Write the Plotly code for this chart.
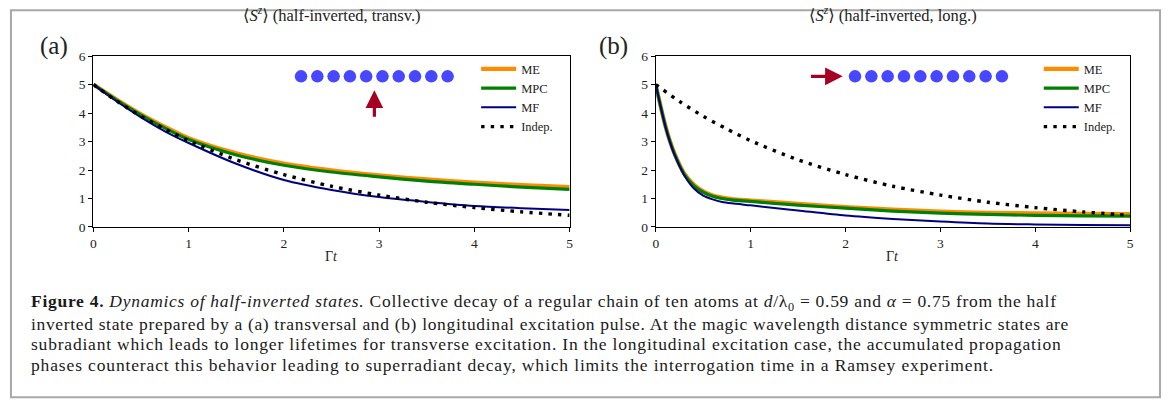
import plotly.graph_objects as go

# ---------------- data ----------------
# Panel (a): transversal excitation
t_a = [0, 0.25, 0.5, 0.75, 1.0, 1.5, 2.0, 2.5, 3.0, 3.5, 4.0, 4.5, 5.0]
me_a = [5.0, 4.46, 3.96, 3.52, 3.12, 2.59, 2.23, 1.99, 1.81, 1.67, 1.56, 1.47, 1.40]
mpc_a = [5.0, 4.44, 3.93, 3.47, 3.07, 2.53, 2.17, 1.93, 1.76, 1.61, 1.50, 1.40, 1.32]
mf_a = [5.0, 4.40, 3.85, 3.36, 2.95, 2.22, 1.65, 1.30, 1.05, 0.88, 0.74, 0.66, 0.60]

# Independent atoms (same in both panels)
t_ind = [0, 0.25, 0.5, 0.75, 1.0, 1.5, 2.0, 2.5, 3.0, 3.5, 4.0, 4.5, 5.0]
indep = [5.0, 4.41, 3.89, 3.44, 3.03, 2.36, 1.84, 1.43, 1.12, 0.87, 0.68, 0.53, 0.41]

# Panel (b): longitudinal excitation
t_b = [0, 0.05, 0.1, 0.15, 0.2, 0.3, 0.4, 0.5, 0.6, 0.7, 0.8, 1.0, 1.25, 1.5,
       2.0, 2.5, 3.0, 3.5, 4.0, 4.5, 5.0]
me_b = [5.0, 4.26, 3.57, 3.01, 2.56, 1.88, 1.49, 1.25, 1.11, 1.03, 0.98, 0.93,
        0.87, 0.81, 0.70, 0.61, 0.54, 0.50, 0.48, 0.46, 0.45]
mpc_b = [5.0, 4.25, 3.56, 3.00, 2.54, 1.85, 1.45, 1.22, 1.08, 1.00, 0.95, 0.90,
         0.83, 0.77, 0.66, 0.56, 0.49, 0.44, 0.41, 0.39, 0.38]
mf_b = [5.0, 4.25, 3.55, 2.98, 2.52, 1.82, 1.36, 1.10, 0.97, 0.88, 0.83, 0.76,
        0.67, 0.58, 0.40, 0.28, 0.19, 0.12, 0.09, 0.07, 0.06]

x_ticks = [0, 1, 2, 3, 4, 5]
y_ticks = [0, 1, 2, 3, 4, 5, 6]
atoms = list(range(10))

titles = ["⟨<i>S</i><sup><i>z</i></sup>⟩ (half-inverted, transv.)",
          "⟨<i>S</i><sup><i>z</i></sup>⟩ (half-inverted, long.)"]
panel_labels = ["(a)", "(b)"]
series_names = ["ME", "MPC", "MF", "Indep."]

caption_lines = [
    "<b>Figure 4.</b> <i>Dynamics of half-inverted states.</i> Collective decay of a regular chain of ten atoms at "
    "<i>d</i>/λ<sub>0</sub> = 0.59 and <i>α</i> = 0.75 from the half",
    "inverted state prepared by a (a) transversal and (b) longitudinal excitation pulse. At the magic wavelength distance symmetric states are",
    "subradiant which leads to longer lifetimes for transverse excitation. In the longitudinal excitation case, the accumulated propagation",
    "phases counteract this behavior leading to superradiant decay, which limits the interrogation time in a Ramsey experiment.",
]

# ---------------- figure ----------------
W, H = 1168, 412
fig = go.Figure()

colors = {"ME": "#ff8c00", "MPC": "#008000", "MF": "#000080", "Indep.": "#000000"}
widths = {"ME": 4.2, "MPC": 3.2, "MF": 2.0, "Indep.": 3.4}

panels = [
    ("x", "y", "legend", t_a, [me_a, mpc_a, mf_a]),
    ("x2", "y2", "legend2", t_b, [me_b, mpc_b, mf_b]),
]
for xa, ya, leg, tt, curves in panels:
    for name, vals in zip(series_names[:3], curves):
        fig.add_trace(go.Scatter(
            x=tt, y=vals, mode="lines", name=name, legend=leg,
            xaxis=xa, yaxis=ya,
            line=dict(color=colors[name], width=widths[name], shape="spline", smoothing=0.8),
        ))
    fig.add_trace(go.Scatter(
        x=t_ind, y=indep, mode="lines", name="Indep.", legend=leg,
        xaxis=xa, yaxis=ya,
        line=dict(color="black", width=widths["Indep."], dash="3.4px,6.2px",
                  shape="spline", smoothing=0.8),
    ))

# atom chains (schematic)
chain_a_x = [2.18 + 0.171 * i for i in atoms]
chain_b_x = [2.10 + 0.172 * i for i in atoms]
for xa, ya, xs in [("x", "y", chain_a_x), ("x2", "y2", chain_b_x)]:
    fig.add_trace(go.Scatter(
        x=xs, y=[5.29] * len(xs), mode="markers", showlegend=False,
        xaxis=xa, yaxis=ya, hoverinfo="skip",
        marker=dict(size=12.5, color="#4747ff", line=dict(width=0)),
    ))

serif = "Liberation Serif, DejaVu Serif, serif"
tick_font = dict(family=serif, size=13.5, color="#222")
ax_common = dict(
    range=[0, 5], tickvals=x_ticks, ticks="outside", ticklen=4, tickwidth=1,
    tickcolor="black", showline=True, linecolor="black", linewidth=1.3,
    mirror=True, showgrid=False, zeroline=False, tickfont=tick_font,
)
ay_common = dict(
    range=[0, 6], tickvals=y_ticks, ticks="outside", ticklen=4, tickwidth=1,
    tickcolor="black", showline=True, linecolor="black", linewidth=1.3,
    mirror=True, showgrid=False, zeroline=False, tickfont=tick_font,
)

legend_font = dict(family=serif, size=12.5, color="#222")
y_dom = [1 - 228.3 / H, 1 - 51 / H]
fig.update_layout(
    width=W, height=H,
    margin=dict(l=0, r=0, t=0, b=0),
    paper_bgcolor="white", plot_bgcolor="white",
    xaxis=dict(domain=[91 / W, 570 / W], anchor="y", **ax_common),
    yaxis=dict(domain=y_dom, anchor="x", **ay_common),
    xaxis2=dict(domain=[656.7 / W, 1134 / W], anchor="y2", **ax_common),
    yaxis2=dict(domain=y_dom, anchor="x2", **ay_common),
    legend=dict(x=476 / W, y=1 - 49 / H, xanchor="left", yanchor="top",
                bgcolor="rgba(0,0,0,0)", tracegroupgap=0, itemwidth=35,
                font=legend_font),
    legend2=dict(x=1042 / W, y=1 - 49 / H, xanchor="left", yanchor="top",
                 bgcolor="rgba(0,0,0,0)", tracegroupgap=0, itemwidth=35,
                 font=legend_font),
    showlegend=True,
)

ann = []
# panel titles, panel labels and x-axis labels
for i, (xa, ya) in enumerate([("x", "y"), ("x2", "y2")]):
    ann.append(dict(text=titles[i],
                    xref=xa + " domain", yref="paper", x=0.5, y=1 - 8 / H,
                    showarrow=False, font=dict(family=serif, size=16.5, color="#222"),
                    xanchor="center", yanchor="middle"))
    ann.append(dict(text="Γ<i>t</i>", xref=xa + " domain", yref="paper", x=0.5, y=1 - 259 / H,
                    showarrow=False, font=dict(family=serif, size=14, color="#222"),
                    xanchor="center", yanchor="middle"))
ann.append(dict(text=panel_labels[0], xref="paper", yref="paper", x=51 / W, y=1 - 40 / H,
                showarrow=False, font=dict(family=serif, size=25, color="#222"),
                xanchor="center", yanchor="middle"))
ann.append(dict(text=panel_labels[1], xref="paper", yref="paper", x=614 / W, y=1 - 40 / H,
                showarrow=False, font=dict(family=serif, size=25, color="#222"),
                xanchor="center", yanchor="middle"))

# excitation pulse arrows
arrow_color = "#a50021"
ann.append(dict(x=2.95, y=4.80, ax=2.95, ay=3.82, xref="x", yref="y", axref="x", ayref="y",
                text="", showarrow=True, arrowhead=2, arrowsize=1.1, arrowwidth=3.2,
                arrowcolor=arrow_color))
ann.append(dict(x=1.97, y=5.29, ax=1.62, ay=5.29, xref="x2", yref="y2", axref="x2", ayref="y2",
                text="", showarrow=True, arrowhead=2, arrowsize=1.1, arrowwidth=3.2,
                arrowcolor=arrow_color))

# caption, one annotation per typeset line
line_y = [307, 328.5, 350, 371.3]
line_track = [0.72, 0.66, 0.8, 0.86]
for txt, yy, tr in zip(caption_lines, line_y, line_track):
    ann.append(dict(text=f'<span style="letter-spacing:{tr}px">{txt}</span>',
                    xref="paper", yref="paper", x=26 / W, y=1 - yy / H,
                    showarrow=False, xanchor="left", yanchor="middle", align="left",
                    font=dict(family=serif, size=17.5, color="#1a1a1a")))
fig.update_layout(annotations=ann)

# outer frame
fig.add_shape(type="rect", xref="paper", yref="paper",
              x0=8 / W, x1=1164 / W, y0=1 - 405 / H, y1=1 - 3.5 / H,
              line=dict(color="#a8a8a8", width=2), fillcolor="rgba(0,0,0,0)", layer="below")

fig.write_html("out.html")
